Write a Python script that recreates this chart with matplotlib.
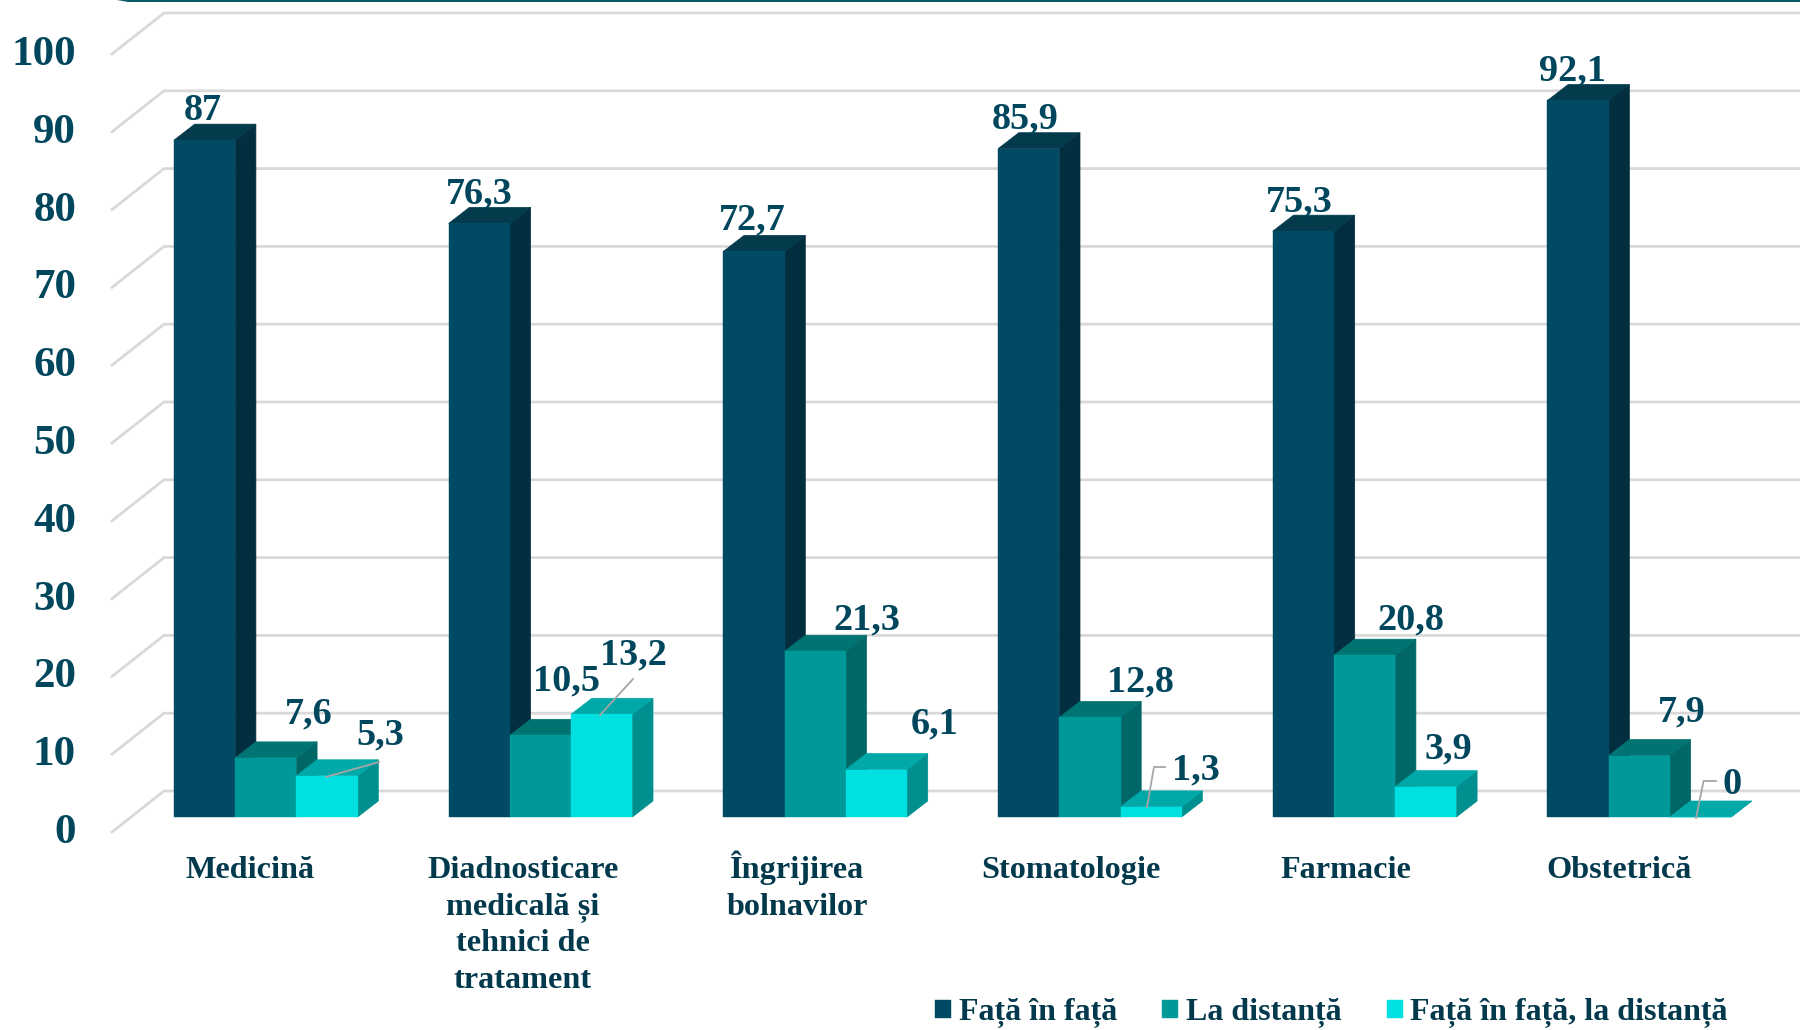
import matplotlib
matplotlib.use('Agg')
import matplotlib.pyplot as plt
from matplotlib.patches import Polygon
from matplotlib.transforms import Affine2D

categories = ['Medicină', 'Diadnosticare\nmedicală și\ntehnici de\ntratament', 'Îngrijirea\nbolnavilor',
              'Stomatologie', 'Farmacie', 'Obstetrică']
fata = [87, 76.3, 72.7, 85.9, 75.3, 92.1]
distanta = [7.6, 10.5, 21.3, 12.8, 20.8, 7.9]
ambele = [5.3, 13.2, 6.1, 1.3, 3.9, 0]
series_names = ['Față în față', 'La distanță', 'Față în față, la distanță']
yticks = [0, 10, 20, 30, 40, 50, 60, 70, 80, 90, 100]

plt.rcParams['font.family'] = ['Liberation Serif', 'DejaVu Serif']
plt.rcParams['font.weight'] = 'bold'

W, H = 1800, 1030
fig = plt.figure(figsize=(W/100, H/100), dpi=100)
ax = fig.add_axes([0, 0, 1, 1])
ax.axis('off')

# scale: group 0 centre at px 265.8, group step 274.7 px, value 0 at py 817, 7.78 px per unit
def dx(px):
    return px/274.7
def dy(py):
    return py/7.78
ax.set_xlim(-265.8/274.7, (W-265.8)/274.7)
ax.set_ylim(-(H-817)/7.78, 817/7.78)

# pixel coords for the annotations (y down like the picture)
pix = Affine2D().scale(1/W, -1/H).translate(0, 1) + fig.transFigure

text_col = '#00465c'
cat_col = '#03394d'
grid_col = '#d9d9d9'
line_col = '#a6a6a6'

# walls and gridlines
x_front = -265.8/274.7 + dx(112)
x_back = -265.8/274.7 + dx(164)
x_end = -265.8/274.7 + dx(W)
for v in yticks:
    ax.plot([x_front, x_back, x_end], [v-dy(15), v+dy(26), v+dy(26)], color=grid_col, lw=2, zorder=1,
            solid_joinstyle='miter')
    ax.text(x_front-dx(36), v-dy(16), str(v), ha='right', va='center', fontsize=31, color=text_col)

# the bars, with a fake 3d depth
bar_w = 61.2/274.7
depth_x = dx(20.7)
depth_y = dy(16)
colors = [('#004a63', '#032e40', '#033a4c'),
          ('#009999', '#006666', '#007373'),
          ('#00e0e0', '#008f8f', '#00a8a8')]
handles = []
z = 2
for i in range(len(categories)):
    for s, vals in enumerate([fata, distanta, ambele]):
        v = vals[i]
        left = i + (s-1.5)*bar_w
        right = left + bar_w
        front, side, top = colors[s]
        ax.add_patch(Polygon([(right, 0), (right+depth_x, depth_y), (right+depth_x, v+depth_y), (right, v)],
                             closed=True, facecolor=side, edgecolor=side, lw=0.5, zorder=z))
        ax.add_patch(Polygon([(left, v), (left+depth_x, v+depth_y), (right+depth_x, v+depth_y), (right, v)],
                             closed=True, facecolor=top, edgecolor=top, lw=0.5, zorder=z))
        b = ax.bar(left, v, width=bar_w, align='edge', color=front, edgecolor=front, lw=0.3, zorder=z)
        if i == 0:
            handles.append(b)
        z += 1

# data labels, placed by hand like in the original
s1_pos = [(203, 111), (479, 194), (752, 220), (1025, 119), (1299, 202), (1573, 71)]
s2_pos = [(309, 714), (567, 681), (867, 620), (1140, 682), (1411, 620), (1682, 712)]
s3_pos = [(380, 735), (633, 655), (935, 724), (1196, 770), (1448, 749), (1732, 784)]
for vals, pos in zip([fata, distanta, ambele], [s1_pos, s2_pos, s3_pos]):
    for v, p in zip(vals, pos):
        ax.text(p[0], p[1], f'{v:g}'.replace('.', ','), transform=pix, ha='center', va='center',
                fontsize=27.5, color=text_col, zorder=100)

# leader lines
leaders = [([326, 379], [777, 762]),
           ([600, 633], [715, 679]),
           ([1147, 1154, 1165], [807, 767, 767]),
           ([1696, 1703.6, 1716], [818, 781, 781])]
for lx, ly in leaders:
    ax.plot(lx, ly, transform=pix, color=line_col, lw=1.3, zorder=99)

# category labels, one text per line so the baselines land on the same rows
cat_x = [250, 523, 797, 1071, 1345.5, 1619]
for c, cx in zip(categories, cat_x):
    for k, line in enumerate(c.split('\n')):
        ax.text(cx, 878+k*36.7, line, transform=pix, ha='center', va='baseline', fontsize=23.2, color=cat_col,
                zorder=50)

# dark strip at the very top
ax.add_patch(Polygon([(117, 0), (W, 0), (W, 2), (128, 2)], closed=True, transform=pix,
                     facecolor='#0d5a6b', edgecolor='none'))

ax.legend(handles=handles, labels=series_names, loc='center right', bbox_to_anchor=(1728/W, 1-1013.5/H),
          bbox_transform=fig.transFigure, ncol=3, frameon=False, fontsize=23, labelcolor=cat_col,
          handlelength=0.5, handleheight=0.5, handletextpad=0.25, columnspacing=1.4, borderpad=0, borderaxespad=0)

fig.savefig('out.png', dpi=100)
